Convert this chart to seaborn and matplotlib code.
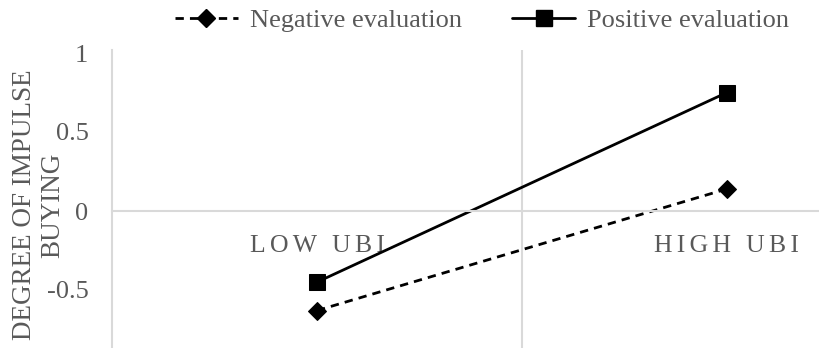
import matplotlib
matplotlib.use('Agg')
import matplotlib.pyplot as plt
import seaborn as sns
import pandas as pd

# values
categories = ['LOW UBI', 'HIGH UBI']
negative_eval = [-0.63, 0.14]
positive_eval = [-0.45, 0.75]
series_names = ['Negative evaluation', 'Positive evaluation']
y_ticks = [-0.5, 0, 0.5, 1]
y_tick_labels = ['-0.5', '0', '0.5', '1']
y_title = ['DEGREE OF IMPULSE', 'BUYING']

df = pd.DataFrame({
    'UBI': categories * 2,
    'Impulse': negative_eval + positive_eval,
    'Evaluation': [series_names[0]] * 2 + [series_names[1]] * 2,
})

sns.set_style('white')
plt.rcParams['font.family'] = ['Liberation Serif', 'DejaVu Serif']
TXT = '#595959'
GRID = '#d9d9d9'
FS = 19

fig = plt.figure(figsize=(8.2, 3.48), dpi=100)
ax = fig.add_axes([112 / 820, 0, 708 / 820, 298 / 348])

ax.axvline(0.5, color=GRID, lw=1.5, zorder=0)
sns.lineplot(
    data=df, x='UBI', y='Impulse', hue='Evaluation', style='Evaluation',
    palette={series_names[0]: 'black', series_names[1]: 'black'},
    markers={series_names[0]: 'D', series_names[1]: 's'},
    dashes={series_names[0]: (3, 2.2), series_names[1]: ''},
    markersize=10, markeredgecolor='black', lw=2, ax=ax, legend=False,
)
for ln in ax.lines:
    if ln.get_marker() == 's':
        ln.set_markersize(11.5)
    elif ln.get_marker() == 'D':
        ln.set_markersize(9)

ax.set_xlim(-0.5, 708 / 410 - 0.5)
ax.set_ylim((211 - 348) / 158, (211 - 50) / 158)

for s in ['top', 'right']:
    ax.spines[s].set_visible(False)
ax.spines['left'].set_color(GRID)
ax.spines['left'].set_linewidth(1.5)
ax.spines['bottom'].set_position(('data', 0))
ax.spines['bottom'].set_color(GRID)
ax.spines['bottom'].set_linewidth(1.5)

ax.set_yticks(y_ticks)
ax.set_yticklabels(y_tick_labels)
ax.set_xticks(range(len(categories)))
ax.set_xticklabels(['\u200a\u200a'.join(c) for c in categories])
ax.tick_params(axis='y', length=0, pad=17, labelsize=FS, labelcolor=TXT)
ax.tick_params(axis='x', length=0, pad=17, labelsize=FS - 0.5, labelcolor=TXT)
ax.set_xlabel('')
ax.set_ylabel('')
# two-line axis title, one text per line
for xpx, line in zip([25, 53], y_title):
    fig.text(xpx / 820, 1 - 205 / 348, line, rotation=90,
             ha='center', va='center', fontsize=FS + 0.5, color=TXT)

handles = [
    plt.Line2D([], [], color='black', lw=2, dashes=(3, 2.2), marker='D', markersize=9),
    plt.Line2D([], [], color='black', lw=2, marker='s', markersize=11.5),
]
leg = fig.legend(handles, series_names, loc='center', bbox_to_anchor=(482 / 820, 1 - 20 / 348),
                 ncol=2, frameon=False, fontsize=FS, handlelength=2.4,
                 handletextpad=0.45, columnspacing=1.9)
for t in leg.get_texts():
    t.set_color(TXT)

fig.savefig('out.png', dpi=100)
plt.close()
